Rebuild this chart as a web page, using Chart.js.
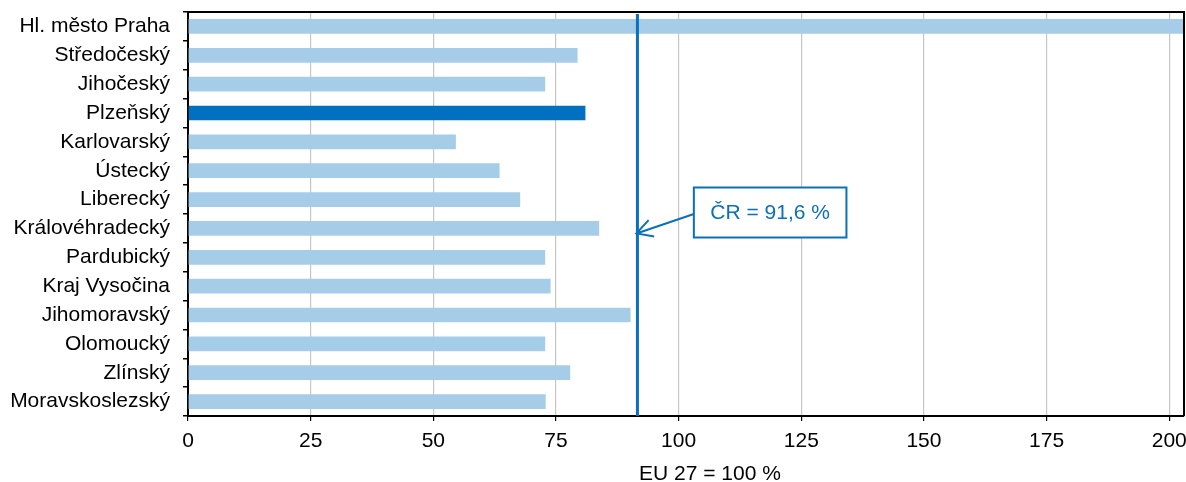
<!DOCTYPE html>
<html lang="cs">
<head>
<meta charset="utf-8">
<script src="https://cdn.jsdelivr.net/npm/chart.js@4/dist/chart.umd.min.js"></script>
<style>
  html, body { margin: 0; padding: 0; background: #fff; }
  #wrap { width: 1186px; height: 482px; position: relative; }
</style>
</head>
<body>
<div id="wrap"><canvas id="chart-kraje"></canvas></div>
<script>
// Kraje a hodnoty HDP na obyvatele (EU 27 = 100 %)
const kraje = [
    'Hl. město Praha', 'Středočeský', 'Jihočeský', 'Plzeňský', 'Karlovarský',
    'Ústecký', 'Liberecký', 'Královéhradecký', 'Pardubický', 'Kraj Vysočina',
    'Jihomoravský', 'Olomoucký', 'Zlínský', 'Moravskoslezský'
];
const hodnoty = [203, 79.4, 72.8, 81.0, 54.6, 63.5, 67.7, 83.8, 72.8, 73.9, 90.2, 72.8, 77.9, 72.9];
const zvyraznenyKraj = 'Plzeňský';
const hodnotaCR = 91.6;
const popiskaCR = 'ČR = 91,6 %';
const osaX = { min: 0, max: 203, krok: 25 };
const nazevOsyX = 'EU 27 = 100 %';

const colors = {
    light: '#a6cde8',
    dark: '#0070c0',
    line: '#0a70bd',
    grid: '#c6c6c6',
    axis: '#000000'
};
const fontFamily = '"Liberation Sans", Arial, sans-serif';

// Ramecek kolem plochy grafu, linie CR a popisek
const overlayPlugin = {
    id: 'overlay',
    afterDatasetsDraw(chart) {
        const { ctx, chartArea: a, scales: { x, y } } = chart;
        ctx.save();

        // horni a prava hrana
        ctx.strokeStyle = colors.axis;
        ctx.lineWidth = 2;
        ctx.beginPath();
        ctx.moveTo(a.left, a.top);
        ctx.lineTo(a.right, a.top);
        ctx.lineTo(a.right, a.bottom);
        ctx.stroke();

        // svisla linie CR
        const xc = x.getPixelForValue(hodnotaCR);
        ctx.strokeStyle = colors.line;
        ctx.lineWidth = 3;
        ctx.beginPath();
        ctx.moveTo(xc, a.top + 2);
        ctx.lineTo(xc, a.bottom);
        ctx.stroke();

        // popisek v ramecku
        const boxL = x.getPixelForValue(103.1);
        const boxR = x.getPixelForValue(134.2);
        const yMid = (y.getPixelForValue(6) + y.getPixelForValue(7)) / 2;
        const boxT = yMid - 26.5, boxB = yMid + 23.5;
        ctx.fillStyle = '#fff';
        ctx.fillRect(boxL, boxT, boxR - boxL, boxB - boxT);
        ctx.lineWidth = 2;
        ctx.strokeRect(boxL, boxT, boxR - boxL, boxB - boxT);

        ctx.fillStyle = colors.line;
        ctx.font = '21px ' + fontFamily;
        ctx.textAlign = 'center';
        ctx.textBaseline = 'middle';
        ctx.fillText(popiskaCR, (boxL + boxR) / 2, yMid - 1);

        // sipka k linii
        const tipX = xc - 1, tipY = y.getPixelForValue(7) + 5;
        const fromX = boxL, fromY = yMid;
        const ang = Math.atan2(tipY - fromY, tipX - fromX);
        ctx.lineWidth = 2;
        ctx.beginPath();
        ctx.moveTo(fromX, fromY);
        ctx.lineTo(tipX, tipY);
        ctx.moveTo(tipX + 18 * Math.cos(ang + Math.PI - 0.5), tipY + 18 * Math.sin(ang + Math.PI - 0.5));
        ctx.lineTo(tipX, tipY);
        ctx.lineTo(tipX + 18 * Math.cos(ang + Math.PI + 0.5), tipY + 18 * Math.sin(ang + Math.PI + 0.5));
        ctx.stroke();

        // nazev osy x
        ctx.fillStyle = '#000';
        ctx.font = '21px ' + fontFamily;
        ctx.textBaseline = 'alphabetic';
        ctx.fillText(nazevOsyX, a.left + (a.right - a.left) * 0.524, a.bottom + 64);

        ctx.restore();
    }
};

const ctxKraje = document.getElementById('chart-kraje');
new Chart(ctxKraje, {
    type: 'bar',
    data: {
        labels: kraje,
        datasets: [{
            data: hodnoty,
            backgroundColor: kraje.map(k => k === zvyraznenyKraj ? colors.dark : colors.light),
            borderWidth: 0,
            barPercentage: 0.51,
            categoryPercentage: 1
        }]
    },
    options: {
        indexAxis: 'y',
        responsive: true,
        maintainAspectRatio: false,
        animation: false,
        layout: { padding: { top: 12, right: 2, left: 0, bottom: 0 } },
        plugins: {
            legend: { display: false },
            tooltip: { enabled: false }
        },
        scales: {
            x: {
                min: osaX.min,
                max: osaX.max,
                afterBuildTicks(scale) {
                    const t = [];
                    for (let v = osaX.min; v <= osaX.max; v += osaX.krok) t.push({ value: v });
                    scale.ticks = t;
                },
                afterFit(scale) {
                    scale.height = 66;
                    scale.paddingRight = 0; // posledni popisek muze presahovat
                },
                grid: {
                    color: colors.grid,
                    tickColor: colors.axis,
                    tickLength: 5,
                    lineWidth: 1.2
                },
                border: { display: true, color: colors.axis, width: 2 },
                ticks: {
                    color: '#000',
                    padding: 8,
                    font: { family: fontFamily, size: 21 }
                }
            },
            y: {
                afterFit(scale) {
                    scale.width = 188;
                    scale.paddingTop = 0;
                    scale.paddingBottom = 0;
                },
                grid: {
                    offset: true,
                    drawOnChartArea: false,
                    color: colors.axis,
                    tickLength: 5,
                    lineWidth: 1.5
                },
                border: { display: true, color: colors.axis, width: 2 },
                ticks: {
                    color: '#000',
                    padding: 13,
                    autoSkip: false,
                    font: { family: fontFamily, size: 21 }
                }
            }
        }
    },
    plugins: [overlayPlugin]
});
</script>
</body>
</html>
